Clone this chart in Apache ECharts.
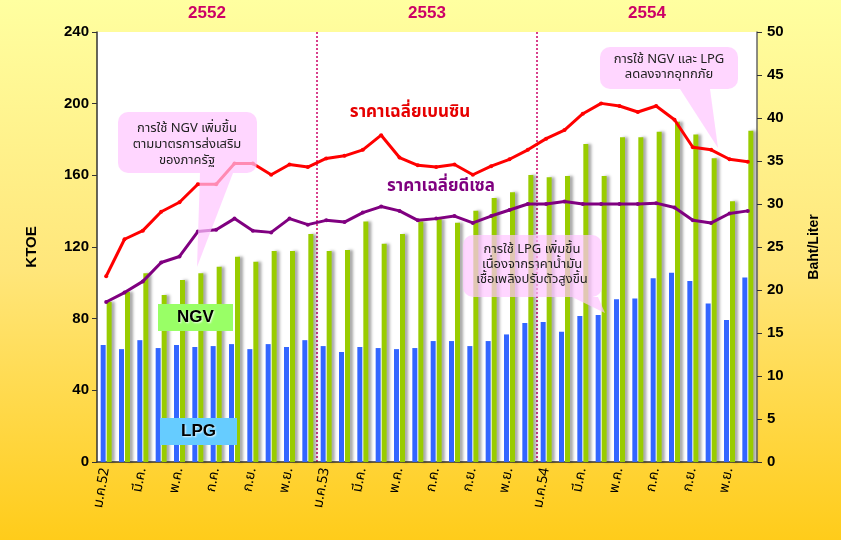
<!DOCTYPE html>
<html>
<head>
<meta charset="utf-8">
<script src="https://cdn.jsdelivr.net/npm/echarts@6/dist/echarts.min.js"></script>
<style>
  html, body { margin: 0; padding: 0; }
  #chart { width: 841px; height: 540px; }
</style>
</head>
<body>
<div id="chart"></div>
<script>
// months Jan 2552 .. Dec 2554
const months = [
  "ม.ค.52", "ก.พ.", "มี.ค.", "เม.ย.", "พ.ค.", "มิ.ย.", "ก.ค.", "ส.ค.", "ก.ย.", "ต.ค.", "พ.ย.", "ธ.ค.",
  "ม.ค.53", "ก.พ.", "มี.ค.", "เม.ย.", "พ.ค.", "มิ.ย.", "ก.ค.", "ส.ค.", "ก.ย.", "ต.ค.", "พ.ย.", "ธ.ค.",
  "ม.ค.54", "ก.พ.", "มี.ค.", "เม.ย.", "พ.ค.", "มิ.ย.", "ก.ค.", "ส.ค.", "ก.ย.", "ต.ค.", "พ.ย.", "ธ.ค."
]
const years = ["2552", "2553", "2554"]

// KTOE
const lpg = [
  65.3, 63, 68, 63.6, 65.3, 64.2, 64.7, 65.8, 63, 65.8, 64.2, 68,
  64.7, 61.4, 64.2, 63.6, 63, 63.6, 67.5, 67.5, 64.7, 67.5, 71.2, 77.6,
  78.1, 72.7, 81.5, 82, 90.8, 91.3, 102.5, 105.6, 101, 88.5, 79.2, 103
]
const ngv = [
  89.5, 95, 105.3, 93.2, 101.6, 105.3, 109, 114.6, 111.8, 117.7, 117.7, 127.2,
  117.7, 118.3, 134.3, 121.8, 127.2, 134.3, 135.6, 133.5, 140.3, 147.3, 150.5, 160.2,
  159, 159.6, 177.5, 159.6, 181.2, 181.2, 184.3, 189.9, 182.8, 169.5, 145.6, 184.9
]
// Baht/Liter
const gasoline = [
  21.6, 25.9, 26.9, 29.1, 30.2, 32.3, 32.3, 34.7, 34.7, 33.4, 34.6, 34.3,
  35.3, 35.6, 36.3, 38.0, 35.4, 34.5, 34.3, 34.6, 33.4, 34.4, 35.2, 36.3,
  37.6, 38.6, 40.5, 41.7, 41.4, 40.7, 41.4, 39.8, 36.6, 36.3, 35.2, 34.9
]
const diesel = [
  18.6, 19.7, 21.0, 23.2, 23.9, 26.8, 27.0, 28.3, 26.9, 26.7, 28.3, 27.6,
  28.1, 27.9, 29.0, 29.7, 29.2, 28.1, 28.3, 28.6, 27.8, 28.6, 29.3, 30.0,
  30.0, 30.3, 30.0, 30.0, 30.0, 30.0, 30.1, 29.6, 28.1, 27.8, 28.9, 29.2
]

const thaiFont = "Tahoma, 'Noto Sans Thai', 'Noto Sans', sans-serif"
const boldFont = "Arial, 'Liberation Sans', sans-serif"
const pink = "rgba(255, 196, 255, 0.7)"

// pink speech bubble: rounded box + pointer, drawn semi-transparent over the plot
const callout = (box, tip, lines, textX, textY, lh) => {
  const bottom = box[1] + box[3]
  return {
    type: "group",
    children: [
      {
        type: "polygon",
        z: 100,
        shape: { points: [[tip[0], bottom], [tip[1], bottom], tip[2]] },
        style: { fill: pink }
      },
      {
        type: "rect",
        z: 100,
        shape: { x: box[0], y: box[1], width: box[2], height: box[3], r: 10 },
        style: { fill: pink }
      },
      {
        type: "text",
        z: 101,
        x: textX,
        y: textY,
        style: {
          text: lines.join("\n"),
          font: "13px " + thaiFont,
          fill: "#222",
          align: "center",
          verticalAlign: "middle",
          lineHeight: lh
        }
      }
    ]
  }
}

const labelBox = (x, y, w, h, color, text) => ({
  type: "group",
  children: [
    { type: "rect", z: 100, shape: { x: x, y: y, width: w, height: h }, style: { fill: color } },
    {
      type: "text",
      z: 101,
      x: x + w / 2,
      y: y + h / 2,
      style: {
        text: text,
        font: "bold 17px " + boldFont,
        fill: "#000",
        align: "center",
        verticalAlign: "middle",
        textShadowColor: "rgba(255,255,255,0.9)",
        textShadowBlur: 2,
        textShadowOffsetX: 1,
        textShadowOffsetY: 1
      }
    }
  ]
})

const chart = echarts.init(document.getElementById("chart"))
chart.setOption({
  animation: false,
  backgroundColor: {
    type: "linear", x: 0, y: 0, x2: 0, y2: 1,
    colorStops: [
      { offset: 0, color: "#FFFFA0" },
      { offset: 0.5, color: "#FFE67A" },
      { offset: 1, color: "#FFCC1A" }
    ]
  },
  grid: {
    left: 97, right: 84, top: 32, bottom: 78,
    show: true, backgroundColor: "#fff", borderWidth: 0
  },
  xAxis: [
    {
      type: "category",
      data: months,
      axisLine: { lineStyle: { color: "#333", width: 1.5 } },
      axisTick: { interval: 0, length: 5, lineStyle: { color: "#333" } },
      axisLabel: {
        interval: 1,
        rotate: 80,
        margin: 6,
        fontSize: 14,
        fontFamily: thaiFont,
        color: "#000"
      }
    },
    {
      type: "category",
      position: "top",
      data: years,
      axisLine: { show: false },
      axisTick: { show: false },
      axisLabel: {
        margin: 10,
        fontSize: 17,
        fontWeight: "bold",
        fontFamily: boldFont,
        color: "#CC0066"
      },
      splitLine: {
        show: true,
        showMinLine: false,
        showMaxLine: false,
        lineStyle: { color: "#CC0066", type: [2, 2], width: 1.5 }
      }
    }
  ],
  yAxis: [
    {
      type: "value",
      min: 0, max: 240, interval: 40,
      name: "KTOE",
      nameLocation: "middle",
      nameGap: 58,
      nameTextStyle: { fontSize: 15, fontWeight: "bold", fontFamily: boldFont, color: "#000" },
      axisLine: { show: true, lineStyle: { color: "#333", width: 1.5 } },
      axisTick: { show: true, length: 5, lineStyle: { color: "#333" } },
      axisLabel: { fontSize: 15, fontWeight: "bold", fontFamily: boldFont, color: "#000", margin: 8 },
      splitLine: { show: false }
    },
    {
      type: "value",
      min: 0, max: 50, interval: 5,
      name: "Baht/Liter",
      nameLocation: "middle",
      nameGap: 50,
      nameTextStyle: { fontSize: 14, fontWeight: "bold", fontFamily: boldFont, color: "#000" },
      axisLine: { show: true, lineStyle: { color: "#666", width: 1.5 } },
      axisTick: { show: true, length: 5, lineStyle: { color: "#333" } },
      axisLabel: { fontSize: 15, fontWeight: "bold", fontFamily: boldFont, color: "#000", margin: 10 },
      splitLine: { show: false }
    }
  ],
  series: [
    {
      name: "LPG",
      type: "bar",
      data: lpg,
      barWidth: 5,
      barGap: "20%",
      itemStyle: { color: "#3366FF" }
    },
    {
      name: "NGV",
      type: "bar",
      data: ngv,
      barWidth: 5,
      itemStyle: {
        color: "#99CC00",
        shadowColor: "rgba(0,0,0,0.35)",
        shadowBlur: 3,
        shadowOffsetX: 3
      }
    },
    {
      name: "ราคาเฉลี่ยเบนซิน",
      type: "line",
      yAxisIndex: 1,
      data: gasoline,
      symbol: "circle",
      symbolSize: 4,
      lineStyle: { color: "#FF0000", width: 3 },
      itemStyle: { color: "#FF0000" },
      z: 5
    },
    {
      name: "ราคาเฉลี่ยดีเซล",
      type: "line",
      yAxisIndex: 1,
      data: diesel,
      symbol: "circle",
      symbolSize: 4,
      lineStyle: { color: "#800080", width: 3 },
      itemStyle: { color: "#800080" },
      z: 5
    }
  ],
  graphic: [
    {
      type: "text", x: 410, y: 114, z: 100,
      style: {
        text: "ราคาเฉลี่ยเบนซิน",
        font: "bold 17px " + thaiFont,
        fill: "#E60000",
        align: "center", verticalAlign: "middle",
        textShadowColor: "rgba(0,0,0,0.3)", textShadowOffsetX: 1, textShadowOffsetY: 1
      }
    },
    {
      type: "text", x: 441, y: 188, z: 100,
      style: {
        text: "ราคาเฉลี่ยดีเซล",
        font: "bold 17px " + thaiFont,
        fill: "#7F007F",
        align: "center", verticalAlign: "middle",
        textShadowColor: "rgba(0,0,0,0.3)", textShadowOffsetX: 1, textShadowOffsetY: 1
      }
    },
    callout([118, 112, 139, 61], [200, 233, [197, 267]],
      ["การใช้ NGV เพิ่มขึ้น", "ตามมาตรการส่งเสริม", "ของภาครัฐ"], 187, 145, 16),
    callout([463, 235, 139, 62], [572, 598, [605, 313]],
      ["การใช้ LPG เพิ่มขึ้น", "เนื่องจากราคาน้ำมัน", "เชื้อเพลิงปรับตัวสูงขึ้น"], 532, 265, 15),
    callout([600, 47, 138, 42], [680, 710, [718, 148]],
      ["การใช้ NGV และ LPG", "ลดลงจากอุทกภัย"], 669, 68, 15),
    labelBox(158, 304, 75, 27, "#99FF66", "NGV"),
    labelBox(160, 418, 77, 27, "#66CCFF", "LPG")
  ]
})
</script>
</body>
</html>
